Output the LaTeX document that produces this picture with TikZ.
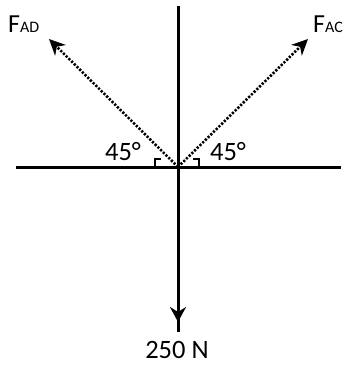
\documentclass[tikz,border=0pt]{standalone}
\usepackage{fontspec}
\setmainfont{Carlito}
\usetikzlibrary{arrows.meta}
\begin{document}
\begin{tikzpicture}[x=1pt,y=-1pt,
  axis/.style={line width=3pt},
  force/.style={line width=2.6pt, dash pattern=on 2.2pt off 1.6pt, -{Stealth[length=16pt,width=15pt,inset=5pt]}},
  down/.style={line width=3pt, -{Stealth[length=15pt,width=16pt,inset=5pt]}},
  anglemark/.style={line width=2.2pt},
  lbl/.style={inner sep=0pt, anchor=base, font=\fontsize{26.5}{30}\selectfont},
  flbl/.style={inner sep=0pt, anchor=base west, font=\fontsize{26}{30}\selectfont}]
\useasboundingbox (0,0) rectangle (347,365);
\coordinate (O) at (178,167);
\coordinate (top) at (178,6);
\coordinate (bot) at (178,332);
\coordinate (tipN) at (178,322);
\coordinate (L) at (16,167);
\coordinate (R) at (341,167);
\coordinate (tipAD) at (49,39);
\coordinate (tipAC) at (308,39);
% axes
\draw[axis] (L) -- (R);
\draw[axis] (top) -- (bot);
\draw[down] (O) -- (tipN);
% forces
\draw[force] (O) -- (tipAD);
\draw[force] (O) -- (tipAC);
% angle marks
\draw[anglemark] ([xshift=-23pt]O) -- ++(0,-8) -- ++(6,0);
\draw[anglemark] ([xshift=21pt]O) -- ++(0,-8) -- ++(-6,0);
% labels
\node[flbl] (fad) at (8,32) {F{\fontsize{16}{18}\selectfont AD}};
\node[flbl] (fac) at (313,32) {F{\fontsize{16}{18}\selectfont AC}};
\node[lbl] (a1) at (123,160) {45°};
\node[lbl] (a2) at (228,160) {45°};
\node[lbl] (w) at (177,358) {250 N};
\end{tikzpicture}
\end{document}
